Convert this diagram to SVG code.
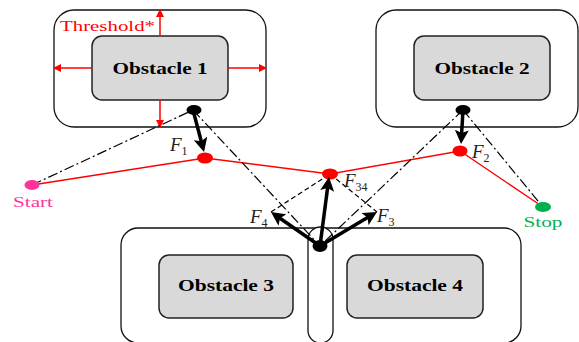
<svg xmlns="http://www.w3.org/2000/svg" width="579" height="342" viewBox="0 0 579 342">
<defs>
<style>
.outer{fill:#fff;stroke:#111;stroke-width:1.3}
.inner{fill:#d9d9d9;stroke:#222;stroke-width:1.5}
.otext{font-family:"Liberation Serif",serif;font-weight:bold;font-size:16px;fill:#000;text-anchor:middle}
.red{stroke:#ff0000;stroke-width:1.3;fill:none}
.thr{stroke:#ff0000;stroke-width:1.5;fill:none;marker-end:url(#rah)}
.dd{stroke:#000;stroke-width:1.2;fill:none;stroke-dasharray:10,3,2,3}
.dash{stroke:#000;stroke-width:1.2;fill:none;stroke-dasharray:5,3}
.force{stroke:#000;stroke-width:3.5;fill:none;marker-end:url(#bah)}
.flabel{font-family:"Liberation Serif",serif;font-style:italic;font-size:19px;fill:#222}
.sub{font-style:normal;font-size:12px}
</style>
<marker id="rah" viewBox="0 0 8 8" refX="7" refY="4" markerWidth="8" markerHeight="8" markerUnits="userSpaceOnUse" orient="auto"><path d="M0,0 L8,4 L0,8 z" fill="#ff0000"/></marker>
<marker id="bah" viewBox="0 0 14 14" refX="4" refY="7" markerWidth="14" markerHeight="14" markerUnits="userSpaceOnUse" orient="auto"><path d="M0,0 L14,7 L0,14 L3,7 z" fill="#000"/></marker>
</defs>
<rect width="579" height="342" fill="#fff"/>

<g id="obstacle1">
<rect class="outer" x="54" y="10" width="212" height="117" rx="20"/>
<rect class="inner" x="92" y="36" width="136" height="64" rx="10"/>
<text class="otext" x="160" y="74" textLength="95" lengthAdjust="spacingAndGlyphs">Obstacle 1</text>
</g>

<g id="obstacle2">
<rect class="outer" x="376" y="10" width="202" height="117" rx="20"/>
<rect class="inner" x="414" y="36" width="136" height="64" rx="10"/>
<text class="otext" x="482" y="74" textLength="95" lengthAdjust="spacingAndGlyphs">Obstacle 2</text>
</g>

<g id="obstacle-zone-3-4">
<rect class="outer" x="121" y="228" width="400" height="115" rx="17"/>
</g>

<g id="obstacle3">
<rect class="inner" x="159" y="255" width="134" height="63" rx="10"/>
<text class="otext" x="226" y="291" textLength="96" lengthAdjust="spacingAndGlyphs">Obstacle 3</text>
</g>

<g id="obstacle4">
<rect class="inner" x="347" y="255" width="136" height="63" rx="10"/>
<text class="otext" x="415" y="291" textLength="96" lengthAdjust="spacingAndGlyphs">Obstacle 4</text>
</g>

<g id="passage">
<rect class="outer" x="308" y="227" width="25" height="116" rx="12.5"/>
</g>

<g id="threshold">
<line class="thr" x1="160" y1="36" x2="160" y2="10"/>
<line class="thr" x1="160" y1="100" x2="160" y2="127"/>
<line class="thr" x1="92" y1="68" x2="54" y2="68"/>
<line class="thr" x1="228" y1="68" x2="266" y2="68"/>
<text x="60" y="31" font-family="Liberation Serif, serif" font-size="15" fill="#ff0000" textLength="95" lengthAdjust="spacingAndGlyphs">Threshold*</text>
</g>

<g id="connectors">
<polyline class="red" points="32,185 205,158 330,174 460,151 543,207"/>
<line class="dd" x1="32" y1="185" x2="193" y2="110"/>
<line class="dd" x1="193" y1="110" x2="320" y2="246"/>
<line class="dd" x1="463" y1="110" x2="320" y2="246"/>
<line class="dd" x1="463" y1="110" x2="543" y2="207"/>
<line class="dash" x1="271" y1="212" x2="330" y2="174"/>
<line class="dash" x1="330" y1="174" x2="377" y2="212"/>
</g>

<g id="start">
<ellipse cx="32" cy="185" rx="7.5" ry="5" fill="#ff3399"/>
<text x="33" y="207" font-family="Liberation Serif, serif" font-size="15" fill="#ff3399" text-anchor="middle" textLength="40" lengthAdjust="spacingAndGlyphs">Start</text>
</g>

<g id="stop">
<ellipse cx="543" cy="207" rx="8" ry="5" fill="#00b050"/>
<text x="543" y="227" font-family="Liberation Serif, serif" font-size="15" fill="#00b050" text-anchor="middle" textLength="39" lengthAdjust="spacingAndGlyphs">Stop</text>
</g>

<g id="waypoint1">
<ellipse cx="205" cy="158" rx="8" ry="5.5" fill="#ff0000"/>
</g>
<g id="waypoint34">
<ellipse cx="330" cy="174" rx="8" ry="5.5" fill="#ff0000"/>
</g>
<g id="waypoint2">
<ellipse cx="460" cy="151" rx="7.5" ry="5.5" fill="#ff0000"/>
</g>

<g id="forces">
<line class="force" x1="193" y1="110" x2="201.5" y2="142.3"/>
<line class="force" x1="463" y1="110" x2="461.6" y2="134"/>
<line class="force" x1="320" y1="246" x2="327.7" y2="186.9"/>
<line class="force" x1="320" y1="246" x2="279.2" y2="217.7"/>
<line class="force" x1="320" y1="246" x2="368.4" y2="217.1"/>
</g>

<g id="sources">
<ellipse cx="194" cy="110" rx="7.5" ry="5" fill="#000"/>
<ellipse cx="463" cy="110" rx="7.5" ry="5" fill="#000"/>
<ellipse cx="320" cy="246" rx="7.5" ry="6" fill="#000"/>
</g>

<g id="labels">
<text class="flabel" x="170" y="151">F<tspan class="sub" dy="4">1</tspan></text>
<text class="flabel" x="472" y="158">F<tspan class="sub" dy="4">2</tspan></text>
<text class="flabel" x="344" y="187">F<tspan class="sub" dy="4">34</tspan></text>
<text class="flabel" x="377" y="222">F<tspan class="sub" dy="4">3</tspan></text>
<text class="flabel" x="250" y="223">F<tspan class="sub" dy="4">4</tspan></text>
</g>
</svg>
